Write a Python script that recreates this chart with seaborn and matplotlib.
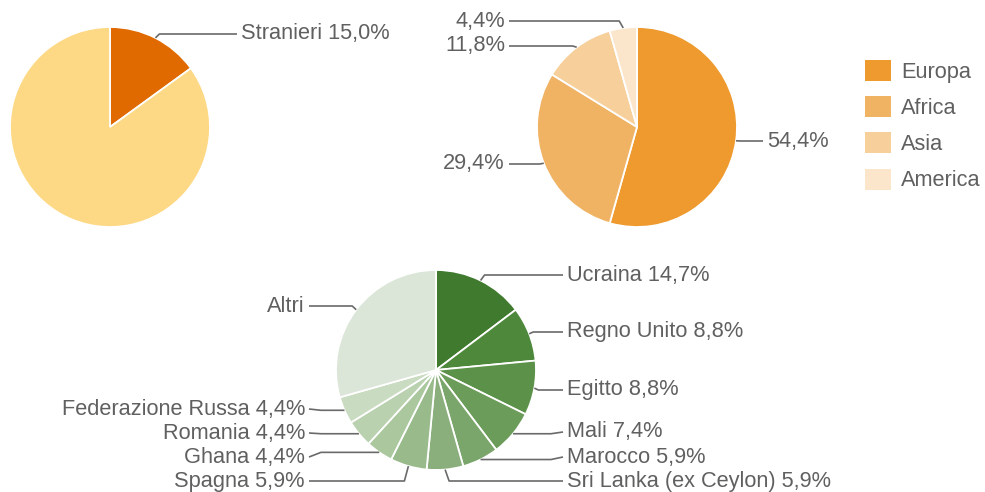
import numpy as np
import matplotlib
matplotlib.use("Agg")
import matplotlib.pyplot as plt
import seaborn as sns

# ---- data ----
pop_labels = ["Stranieri", "Italiani"]
pop_values = [15.0, 85.0]

cont_labels = ["Europa", "Africa", "Asia", "America"]
cont_values = [54.4, 29.4, 11.8, 4.4]

country_labels = ["Ucraina", "Regno Unito", "Egitto", "Mali", "Marocco",
                  "Sri Lanka (ex Ceylon)", "Spagna", "Ghana", "Romania",
                  "Federazione Russa", "Altri"]
country_values = [14.7, 8.8, 8.8, 7.4, 5.9, 5.9, 5.9, 4.4, 4.4, 4.4, 29.4]

# ---- style ----
sns.set_theme(style="white")
plt.rcParams["font.family"] = ["Liberation Sans", "DejaVu Sans"]
TXT = "#606060"
LINE = "#6a6a6a"
FS = 15.7

pop_colors = ["#e06a00", "#fed985"]
cont_colors = ["#ee9a2e", "#f0b263", "#f6cf9b", "#fbe6cb"]
country_colors = ["#3f7a2e", "#4d883b", "#5c9149", "#6c9c5a", "#7ba66b",
                  "#8aaf7c", "#99bb8c", "#aac79e", "#b9d1ae", "#c9dbc0",
                  "#dbe5d8"]

W, H = 985, 492
fig = plt.figure(figsize=(W / 100, H / 100), dpi=100)
ax = fig.add_axes([0, 0, 1, 1])

def Y(py):
    return H - py

R = 100

def draw_pie(values, colors, cx, cy):
    wedges, _ = ax.pie(values, colors=colors, startangle=90, counterclock=False,
                       center=(cx, Y(cy)), radius=R,
                       wedgeprops=dict(edgecolor="white", linewidth=1.3))
    return wedges

def mid_point(w):
    a = np.deg2rad((w.theta1 + w.theta2) / 2)
    cx, cy = w.center
    return cx + w.r * np.cos(a), cy + w.r * np.sin(a)

def label(w, text, tx, ty, side, style):
    ex, ey = mid_point(w)
    ty_d = Y(ty)
    sgn = 1 if side == "right" else -1
    end_x = tx - sgn * 4
    if style == "v":
        bx = ex + sgn * 4
        xs = [ex, bx, end_x]
        ys = [ey, ty_d, ty_d]
    else:
        bx = end_x - sgn * 12
        xs = [ex, bx, end_x]
        ys = [ey, ey, ty_d]
    ax.plot(xs, ys, color=LINE, lw=1.2, solid_capstyle="butt")
    ax.text(tx, ty_d, text, ha="left" if side == "right" else "right",
            va="center", fontsize=FS, color=TXT)

def fmt(v):
    return f"{v:.1f}".replace(".", ",") + "%"

# pie 1
w1 = draw_pie(pop_values, pop_colors, 110, 127)
label(w1[0], f"{pop_labels[0]} {fmt(pop_values[0])}", 241, 34, "right", "v")

# pie 2
w2 = draw_pie(cont_values, cont_colors, 637, 127)
pos2 = [(767, 141, "right", "v"), (505, 164, "left", "v"),
        (505, 46, "left", "v"), (505, 21, "left", "v")]
for w, v, (tx, ty, s, st) in zip(w2, cont_values, pos2):
    label(w, fmt(v), tx, ty, s, st)

leg = ax.legend(w2, cont_labels, loc="upper left",
                bbox_to_anchor=(865 / W, 1 - 60 / H), bbox_transform=fig.transFigure,
                frameon=False, fontsize=FS, handlelength=26 / (FS * 100 / 72),
                handleheight=24 / (FS * 100 / 72),
                labelspacing=0.61, handletextpad=0.45, borderpad=0, borderaxespad=0)
for t in leg.get_texts():
    t.set_color(TXT)
for p in leg.get_patches():
    p.set_edgecolor("none")

# pie 3
w3 = draw_pie(country_values, country_colors, 436, 370)
pos3 = [(567, 275, "right", "v"), (567, 332, "right", "v"),
        (567, 390, "right", "v"), (567, 432, "right", "h"),
        (567, 457, "right", "h"), (567, 481, "right", "v"),
        (305, 481, "left", "v"), (305, 457, "left", "h"),
        (305, 433, "left", "h"), (305, 409, "left", "h"),
        (305, 306, "left", "v")]
for w, name, v, (tx, ty, s, st) in zip(w3, country_labels, country_values, pos3):
    txt = name if name == "Altri" else f"{name} {fmt(v)}"
    label(w, txt, tx, ty, s, st)

ax.set_xlim(0, W)
ax.set_ylim(0, H)
ax.set_aspect("equal")
ax.axis("off")

fig.savefig("out.png", dpi=100, facecolor="white")
